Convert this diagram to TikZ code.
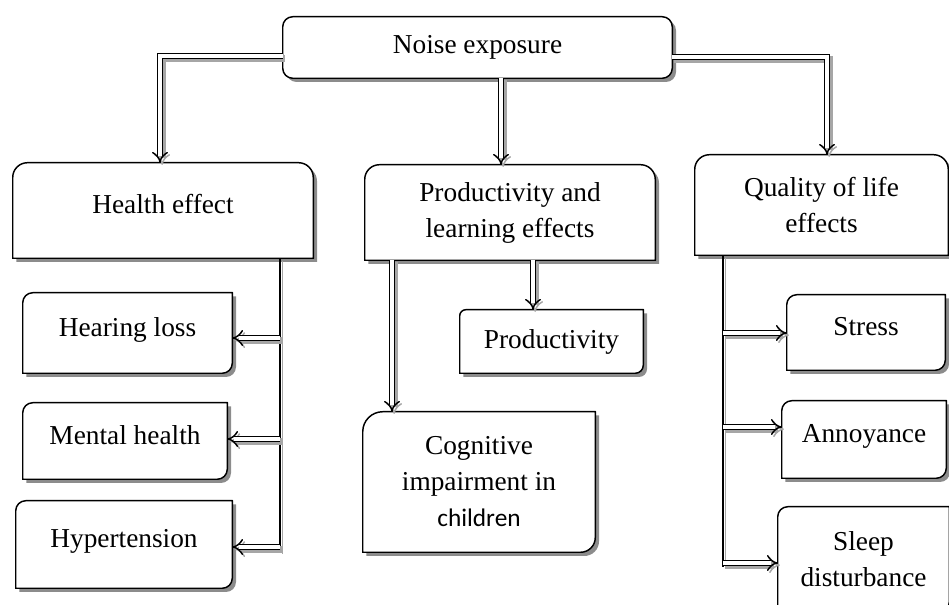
\documentclass[tikz,border=0pt]{standalone}
\usepackage{fontspec}
\setmainfont{Liberation Serif}
\newfontfamily\calib{Carlito}
\usetikzlibrary{arrows.meta}
\pgfdeclarelayer{bg}
\pgfsetlayers{bg,main}
\newcommand\outl[5]{%
  \begin{pgfonlayer}{bg}
  \fill[black!45, transform canvas={shift={(2.8pt,-2.8pt)}}] ([xshift=#2]#1.north west) -- ([xshift=-#3]#1.north east) arc[start angle=90,end angle=0,radius=#3] -- ([yshift=#4]#1.south east) arc[start angle=0,end angle=-90,radius=#4] -- ([xshift=#5]#1.south west) arc[start angle=-90,end angle=-180,radius=#5] -- ([yshift=-#2]#1.north west) arc[start angle=180,end angle=90,radius=#2] -- cycle;
  \draw[fill=white, line width=1.1pt] ([xshift=#2]#1.north west) -- ([xshift=-#3]#1.north east) arc[start angle=90,end angle=0,radius=#3] -- ([yshift=#4]#1.south east) arc[start angle=0,end angle=-90,radius=#4] -- ([xshift=#5]#1.south west) arc[start angle=-90,end angle=-180,radius=#5] -- ([yshift=-#2]#1.north west) arc[start angle=180,end angle=90,radius=#2] -- cycle;
  \end{pgfonlayer}}
\tikzset{
  box/.style={inner sep=0pt, align=center, font=\fontsize{20.5pt}{27pt}\selectfont},
  oneline/.style={text height=14pt, text depth=9.4pt},
  arr/.style={draw=black, double=white, double distance=3pt, line width=1.1pt, -{Implies[length=5pt, width=9pt]}, line join=miter},
  arrsh/.style={arr, draw=black!35, double=black!35, transform canvas={shift={(1.6pt,-1.6pt)}}},
  trunk/.style={draw=black, line width=1.9pt, preaction={draw=black!35, transform canvas={shift={(1.8pt,-1.8pt)}}}},
}
\begin{document}
\begin{tikzpicture}[x=0.75pt, y=0.75pt]
\useasboundingbox (0,0) rectangle (949,605);
% nodes
\node[box, minimum width=291.75pt, minimum height=45.75pt] (noise) at (477.5,557.5) {Noise exposure};
\node[box, oneline, minimum width=225pt, minimum height=71.25pt] (health) at (163,394.5) {Health effect};
\node[box, minimum width=217.5pt, minimum height=71.25pt] (prod) at (510,392.5) {Productivity and\\learning effects};
\node[box, minimum width=189.75pt, minimum height=75pt] (qual) at (821.5,400) {Quality of life\\effects};
\node[box, oneline, minimum width=156.75pt, minimum height=60pt] (hear) at (127.5,272) {Hearing loss};
\node[box, oneline, minimum width=153pt, minimum height=57pt] (mental) at (125,164) {Mental health};
\node[box, oneline, minimum width=162pt, minimum height=65.25pt] (hyper) at (124,60.5) {Hypertension};
\node[box, minimum width=137.25pt, minimum height=47.25pt] (prodv) at (551.5,263.5) {Productivity};
\node[box, minimum width=174pt, minimum height=105pt] (cog) at (479,123) {Cognitive\\impairment in\\{\calib\fontsize{19pt}{25pt}\selectfont children}};
\node[box, oneline, minimum width=118.5pt, minimum height=56.25pt] (stress) at (866,272.5) {Stress};
\node[box, oneline, minimum width=123pt, minimum height=57.75pt] (annoy) at (864,165.5) {Annoyance};
\node[box, minimum width=128.25pt, minimum height=78.75pt] (sleep) at (863.5,45.5) {Sleep\\disturbance};
% outlines
\outl{noise}{7.5pt}{7.5pt}{7.5pt}{7.5pt}
\outl{health}{11pt}{11pt}{0.01pt}{0.01pt}
\outl{prod}{11pt}{11pt}{0.01pt}{0.01pt}
\outl{qual}{11pt}{11pt}{0.01pt}{0.01pt}
\outl{hear}{7.5pt}{0.01pt}{7.5pt}{0.01pt}
\outl{mental}{7.5pt}{0.01pt}{7.5pt}{0.01pt}
\outl{hyper}{7.5pt}{0.01pt}{7.5pt}{0.01pt}
\outl{prodv}{4.5pt}{0.01pt}{6pt}{0.01pt}
\outl{cog}{15pt}{0.01pt}{11pt}{0.01pt}
\outl{stress}{7.5pt}{0.01pt}{7.5pt}{0.01pt}
\outl{annoy}{7.5pt}{0.01pt}{7.5pt}{0.01pt}
\outl{sleep}{7.5pt}{0.01pt}{7.5pt}{0.01pt}
% coordinates
\coordinate (nl) at (160,549);
\coordinate (nc) at (501,0);
\coordinate (nr) at (827,548);
\coordinate (pv) at (533,0);
\coordinate (pc) at (392,0);
\coordinate (hb) at (280,53);
\coordinate (h1) at (280,267);
\coordinate (h2) at (280,166);
\coordinate (h3) at (280,58);
\coordinate (qb) at (723,38);
\coordinate (q1) at (723,272);
\coordinate (q2) at (723,178);
\coordinate (q3) at (723,42);
% trunks
\draw[trunk] (health.south -| hb) -- (hb);
\draw[trunk] (qual.south -| qb) -- (qb);
% arrows from top box
\draw[arrsh] (noise.west |- nl) -- (nl) -- (nl |- health.north);
\draw[arr] (noise.west |- nl) -- (nl) -- (nl |- health.north);
\draw[arrsh] (noise.south -| nc) -- (prod.north -| nc);
\draw[arr] (noise.south -| nc) -- (prod.north -| nc);
\draw[arrsh] (noise.east |- nr) -- (nr) -- (nr |- qual.north);
\draw[arr] (noise.east |- nr) -- (nr) -- (nr |- qual.north);
% productivity arrows
\draw[arrsh] (prod.south -| pv) -- (prodv.north -| pv);
\draw[arr] (prod.south -| pv) -- (prodv.north -| pv);
\draw[arrsh] (prod.south -| pc) -- (cog.north -| pc);
\draw[arr] (prod.south -| pc) -- (cog.north -| pc);
% health branches
\foreach \c/\n in {h1/hear, h2/mental, h3/hyper} {
  \draw[arrsh] (\c) -- (\n.east |- \c);
  \draw[arr] (\c) -- (\n.east |- \c);
}
% quality branches
\foreach \c/\n in {q1/stress, q2/annoy, q3/sleep} {
  \draw[arrsh] (\c) -- (\n.west |- \c);
  \draw[arr] (\c) -- (\n.west |- \c);
}
\end{tikzpicture}
\end{document}
